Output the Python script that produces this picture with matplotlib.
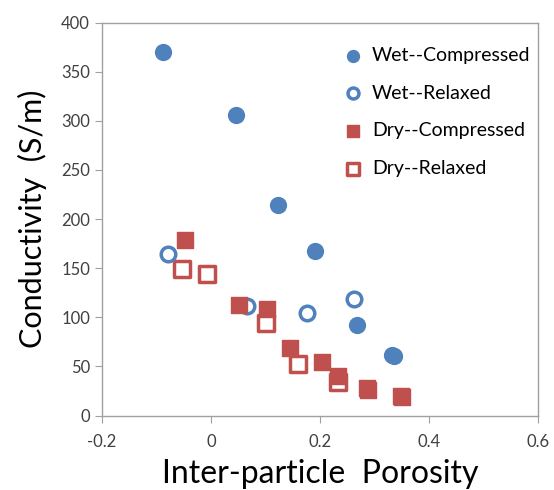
import matplotlib.pyplot as plt
import numpy as np

plt.rcParams['font.family'] = ['Lato', 'DejaVu Sans']

# data
wet_comp_x = [-0.088, 0.046, 0.123, 0.191, 0.268, 0.333, 0.335]
wet_comp_y = [370, 306, 214, 167, 92, 62, 61]

wet_rel_x = [-0.078, 0.066, 0.177, 0.263]
wet_rel_y = [164, 111, 104, 119]

dry_comp_x = [-0.047, 0.051, 0.102, 0.145, 0.204, 0.233, 0.286, 0.289, 0.348, 0.351]
dry_comp_y = [179, 112, 108, 69, 54, 40, 28, 26, 20, 19]

dry_rel_x = [-0.054, -0.008, 0.101, 0.160, 0.234]
dry_rel_y = [149, 144, 94, 52, 34]

blue = '#4F81BD'
red = '#C0504D'

fig = plt.figure(figsize=(5.54, 4.90), dpi=100)
ax = fig.add_axes([0.184, 0.152, 0.787, 0.802])

ax.scatter(wet_comp_x, wet_comp_y, s=130, marker='o', color=blue, label='Wet--Compressed', zorder=3)
ax.scatter(wet_rel_x, wet_rel_y, s=110, marker='o', facecolor='white', edgecolor=blue, linewidth=2.5,
           label='Wet--Relaxed', zorder=3)
ax.scatter(dry_comp_x, dry_comp_y, s=140, marker='s', color=red, label='Dry--Compressed', zorder=3)
ax.scatter(dry_rel_x, dry_rel_y, s=120, marker='s', facecolor='white', edgecolor=red, linewidth=2.5,
           label='Dry--Relaxed', zorder=2)

ax.set_xlim(-0.2, 0.6)
ax.set_ylim(0, 400)
ax.set_xticks([-0.2, 0, 0.2, 0.4, 0.6])
ax.set_xticklabels(['-0.2', '0', '0.2', '0.4', '0.6'])
ax.set_yticks(np.arange(0, 401, 50))

for sp in ax.spines.values():
    sp.set_color('#A0A0A0')
    sp.set_linewidth(1)
ax.tick_params(direction='out', length=5, color='#A0A0A0', labelsize=12, labelcolor='#404040')
ax.tick_params(axis='x', pad=8)

ax.set_xlabel('Inter-particle  Porosity', fontsize=23, labelpad=7)
ax.set_ylabel('Conductivity  (S/m)', fontsize=22, labelpad=10)

leg = ax.legend(loc='upper right', bbox_to_anchor=(1.01, 0.968), frameon=False, fontsize=14,
                handletextpad=0.0, labelspacing=1.07, borderaxespad=0.2, markerscale=0.75)

fig.savefig('out.png', dpi=100)
